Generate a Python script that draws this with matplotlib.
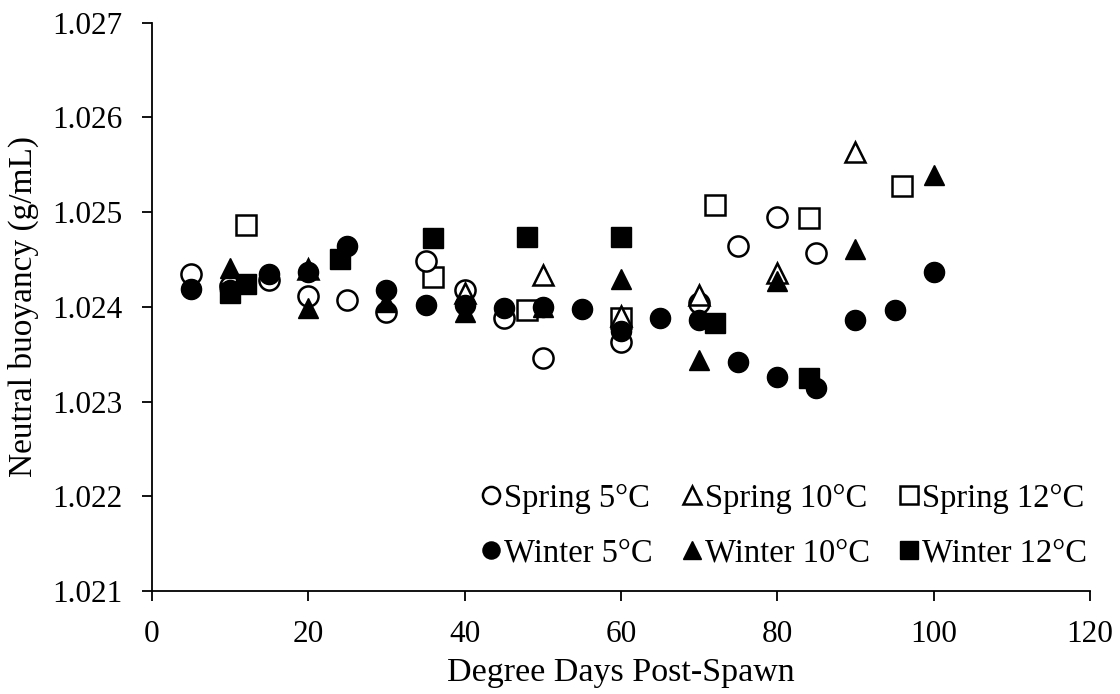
import numpy as np
import matplotlib
matplotlib.use("Agg")
import matplotlib.pyplot as plt
from matplotlib.ticker import FormatStrFormatter

plt.rcParams['font.family'] = ['Liberation Serif', 'DejaVu Serif']

# data
spring5_x = [5, 10, 15, 20, 25, 30, 35, 40, 45, 50, 60, 70, 75, 80, 85]
spring5_y = [1.02435, 1.02422, 1.02428, 1.02411, 1.02407, 1.02395, 1.02448, 1.02418,
             1.02388, 1.02346, 1.02363, 1.02404, 1.02464, 1.02495, 1.02457]

spring10_x = [20, 40, 50, 60, 70, 80, 90]
spring10_y = [1.02440, 1.02415, 1.02434, 1.02390, 1.02413, 1.02436, 1.02563]

spring12_x = [12, 36, 48, 60, 72, 84, 96]
spring12_y = [1.02486, 1.02432, 1.02397, 1.02388, 1.02508, 1.02494, 1.02528]

winter5_x = [5, 10, 15, 20, 25, 30, 35, 40, 45, 50, 55, 60, 65, 70, 75, 80, 85, 90, 95, 100]
winter5_y = [1.02419, 1.02418, 1.02435, 1.02437, 1.02464, 1.02418, 1.02402, 1.02402, 1.02399,
             1.02400, 1.02398, 1.02374, 1.02388, 1.02386, 1.02342, 1.02326, 1.02314, 1.02386,
             1.02397, 1.02437]

winter10_x = [10, 20, 30, 40, 50, 60, 70, 80, 90, 100]
winter10_y = [1.02441, 1.02399, 1.02405, 1.02395, 1.02400, 1.02429, 1.02344, 1.02427,
              1.02461, 1.02539]

winter12_x = [10, 12, 24, 36, 48, 60, 72, 84]
winter12_y = [1.02415, 1.02424, 1.02451, 1.02473, 1.02474, 1.02474, 1.02383, 1.02325]


def main():

    fig = plt.figure(figsize=(11.2, 6.94), dpi=100)
    ax = fig.add_axes([0.1357, 0.1484, 0.8375, 0.8189])

    ms = 14.5
    open_kw = dict(linestyle='none', markerfacecolor='white', markeredgecolor='black',
                   markeredgewidth=1.8, markersize=ms)
    fill_kw = dict(linestyle='none', color='black', markersize=ms)

    h = {}
    h['s12'], = ax.plot(spring12_x, spring12_y, marker='s', label='Spring 12°C', **open_kw)
    h['s5'], = ax.plot(spring5_x, spring5_y, marker='o', label='Spring 5°C', **open_kw)
    h['s10'], = ax.plot(spring10_x, spring10_y, marker='^', label='Spring 10°C', **open_kw)
    h['w12'], = ax.plot(winter12_x, winter12_y, marker='s', label='Winter 12°C', **fill_kw)
    h['w10'], = ax.plot(winter10_x, winter10_y, marker='^', label='Winter 10°C', **fill_kw)
    h['w5'], = ax.plot(winter5_x, winter5_y, marker='o', label='Winter 5°C', **fill_kw)

    ax.set_xlim(0, 120)
    ax.set_ylim(1.021, 1.027)
    ax.set_xticks(np.arange(0, 121, 20))
    ax.set_yticks(np.arange(1.021, 1.0271, 0.001))
    ax.yaxis.set_major_formatter(FormatStrFormatter('%.3f'))

    ax.spines['top'].set_visible(False)
    ax.spines['right'].set_visible(False)
    ax.spines['left'].set_linewidth(1.3)
    ax.spines['bottom'].set_linewidth(1.3)
    ax.tick_params(direction='out', length=7, width=1.3, labelsize=22.5)
    ax.tick_params(axis='y', pad=14)
    ax.tick_params(axis='x', pad=14)

    ax.set_xlabel('Degree Days Post-Spawn', fontsize=24.5, labelpad=6)
    ax.set_ylabel('Neutral buoyancy (g/mL)', fontsize=24, labelpad=10)

    order = ['s5', 'w5', 's10', 'w10', 's12', 'w12']
    ax.legend([h[k] for k in order], [h[k].get_label() for k in order],
              ncol=3, loc='lower right', bbox_to_anchor=(1.018, 0.005), frameon=False,
              fontsize=23.5, markerscale=0.85, handlelength=0.6, handletextpad=0.1,
              columnspacing=0.9, labelspacing=0.75, borderaxespad=0.2)

    plt.savefig('out.png', dpi=100)
    plt.close()


if __name__ == "__main__":
    main()
